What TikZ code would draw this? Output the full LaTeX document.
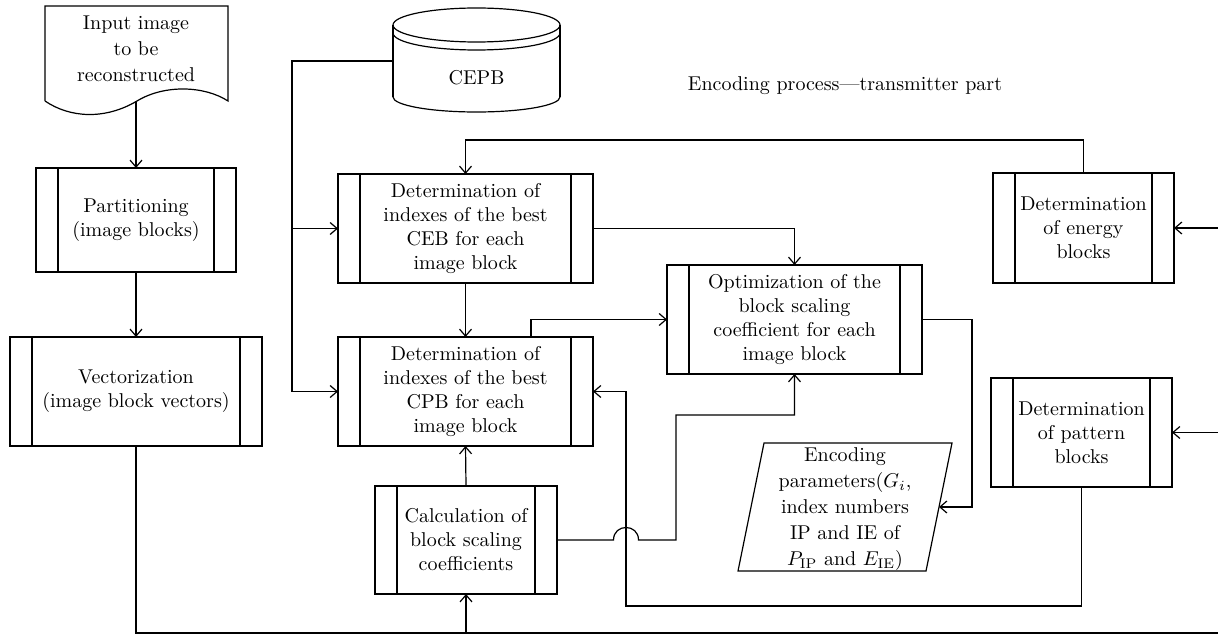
\documentclass[tikz,border=0pt]{standalone}
\usetikzlibrary{arrows.meta}
\begin{document}
\begin{tikzpicture}[x=0.5pt,y=-0.5pt, line width=0.6pt,
  >={Straight Barb[length=3.5pt,width=6pt]},
  arr/.style={->},
  proc/.style={draw, rectangle, align=center, inner sep=0pt, outer sep=0pt,
    path picture={
      \draw ([xshift=11pt]path picture bounding box.north west) -- ([xshift=11pt]path picture bounding box.south west);
      \draw ([xshift=-11pt]path picture bounding box.north east) -- ([xshift=-11pt]path picture bounding box.south east);}},
  lbl/.style={align=center, inner sep=0pt},
  tall/.style={font=\fontsize{10}{13}\selectfont}
]
\useasboundingbox (0,0) rectangle (1218,636);

% document shape
\draw (45,101) -- (45,6) -- (228,6) -- (228,101)
  .. controls (205,86) and (165,84) .. (137,101)
  .. controls (105,120) and (70,118) .. (45,101);
\node[lbl,tall] (doc) at (136,49) {Input image\\to be\\reconstructed};
\coordinate (docb) at (136,101.5);

% CEPB cylinder
\draw (476.5,25) ellipse [x radius=41.75pt, y radius=8.5pt];
\draw (393,33) .. controls (393,42.4) and (430.4,50) .. (476.5,50)
  .. controls (522.6,50) and (560,42.4) .. (560,33);
\draw (393,25) -- (393,97);
\draw (560,25) -- (560,97);
\draw (393,97) .. controls (393,105.3) and (430.4,112) .. (476.5,112)
  .. controls (522.6,112) and (560,105.3) .. (560,97);
\node[lbl] (cepb) at (476.5,78) {CEPB};
\coordinate (cepbL) at (393,61);
\coordinate (j1) at (292,61);

% title
\node[lbl] (title) at (845,86) {Encoding process---transmitter part};

% process boxes
\node[proc, minimum width=100pt, minimum height=52pt] (part) at (136,220) {Partitioning\\(image blocks)};
\node[proc, minimum width=126pt, minimum height=54.5pt] (vec) at (136,391.5) {Vectorization\\(image block vectors)};
\node[proc, minimum width=127.5pt, minimum height=54.5pt] (ceb) at (465.5,228.5) {Determination of\\indexes of the best\\CEB for each\\image block};
\node[proc, minimum width=127.5pt, minimum height=54.5pt] (cpb) at (465.5,391.5) {Determination of\\indexes of the best\\CPB for each\\image block};
\node[proc, minimum width=127.5pt, minimum height=54.5pt] (opt) at (794.5,319.5) {Optimization of the\\block scaling\\coefficient for each\\image block};
\node[proc, minimum width=91pt, minimum height=54pt] (calc) at (466,540) {Calculation of\\block scaling\\coefficients};
\node[proc, minimum width=90.5pt, minimum height=55pt] (energy) at (1083.5,228) {Determination\\of energy\\blocks};
\node[proc, minimum width=90.5pt, minimum height=54.5pt] (pat) at (1081.5,432.5) {Determination\\of pattern\\blocks};

% encoding parameters (parallelogram)
\draw (738,571) -- (926,571) -- (952,443) -- (764,443) -- cycle;
\node[lbl,tall] (enc) at (845,509) {Encoding\\parameters($G_i$,\\index numbers\\IP and IE of\\$P_{\mathrm{IP}}$ and $E_{\mathrm{IE}}$)};
\coordinate (encR) at (939,507);

% free ends on the right edge
\coordinate (eIn) at (1218,228);
\coordinate (pIn) at (1218,432.5);
\coordinate (botR) at (1218,633);

% connectors
\draw[arr] (docb) -- (part.north);
\draw[arr] (part.south) -- (vec.north);
\draw[arr] (cepbL) -- (j1) |- (cpb.west);
\draw[arr] (j1 |- ceb.west) -- (ceb.west);
\draw[arr] (energy.north) -- ++(0,-33) -| (ceb.north);
\draw[arr] (ceb.south) -- (cpb.north);
\draw[arr] (ceb.east) -| (opt.north);
\draw[arr] ([xshift=32.75pt]cpb.north) |- (opt.west);
\draw[arr] (opt.east) -- ++(50,0) |- (encR);
\draw[arr] (calc.north) -- (cpb.south);
\draw (vec.south) |- (botR);
\draw[arr] (calc.south |- botR) -- (calc.south);
\draw[arr] (calc.east) -- (613.5,540) .. controls (613.5,523.3) and (638.5,523.3) .. (638.5,540)
  -- (676,540) -- (676,415) -| (opt.south);
\draw[arr] (pat.south) |- (626,606) |- (cpb.east);
\draw[arr] (eIn) -- (energy.east);
\draw[arr] (pIn) -- (pat.east);
\end{tikzpicture}
\end{document}
